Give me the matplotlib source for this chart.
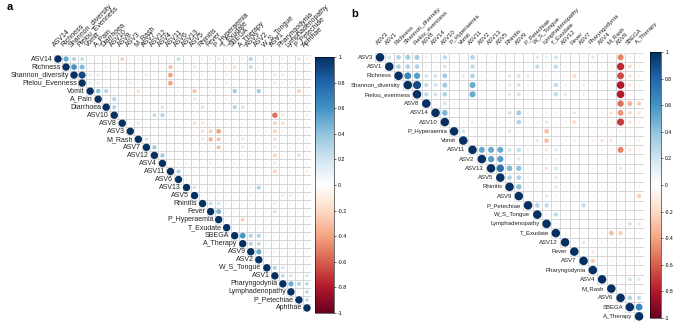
import numpy as np
import matplotlib
matplotlib.use("Agg")
import matplotlib.pyplot as plt
from matplotlib.patches import Circle, Rectangle
from matplotlib.colors import LinearSegmentedColormap, Normalize
from matplotlib.colorbar import ColorbarBase

plt.rcParams['font.family'] = ['Liberation Sans', 'DejaVu Sans']

# ---- panel a: variable order and upper-triangle correlations (row i -> cols i+1..)
labels_a = ["ASV14", "Richness", "Shannon_diversity", "Pielou_Evenness", "Vomit",
            "A_Pain", "Diarrhoea", "ASV10", "ASV8", "ASV3", "M_Rash", "ASV7",
            "ASV12", "ASV4", "ASV11", "ASV6", "ASV13", "ASV5", "Rhinitis", "Fever",
            "P_Hyperaemia", "T_Exudate", "SBEGA", "A_Therapy", "ASV9", "ASV2",
            "W_S_Tongue", "ASV1", "Pharyngodynia", "Lymphadenopathy", "P_Petechiae",
            "Aphthae"]

rows_a = [
    [.5, .3, .25, .08, -.08, .08, .07, -.25, -.08, -.12, -.08, .07, -.07, .07, .25, .07,
     .07, -.1, .1, .15, .08, -.08, -.1, .3, .07, -.08, .07, .1, .07, -.2, -.08],
    [.6, .45, .08, .07, .12, .08, -.08, -.1, -.08, -.1, .07, -.07, -.3, .07, .07, .15,
     .07, -.08, .07, -.08, -.2, .07, .25, -.08, .07, .07, -.08, .08, .07, -.07],
    [.9, .15, .15, .08, .07, -.08, -.08, -.1, -.15, -.1, -.07, -.4, .07, .07, -.1, -.1,
     .07, .07, .1, .07, -.07, .07, -.08, .07, .15, .12, .07, -.1, .07],
    [.15, .15, .07, .07, -.1, -.15, -.1, -.08, .07, -.1, -.4, .07, .07, -.07, .07, -.08,
     .07, .12, .07, .07, .07, -.07, .07, .12, .1, .1, -.07, -.08],
    [.4, .3, .07, .07, -.1, -.2, -.07, -.08, .07, -.07, -.1, .07, -.3, .07, .08, .07,
     .07, .35, .07, .07, .35, .07, .07, .07, -.08, -.25, .07],
    [.08, .3, .07, -.08, -.08, .07, -.08, .07, -.07, .07, -.08, -.15, .07, -.08, .07, .08,
     .08, .07, -.08, .07, .07, -.08, .07, .08, .07, .07],
    [.3, .07, .07, -.08, .07, .07, .2, .07, .07, .07, -.1, .2, .07, -.08, .07, .3, .2,
     .07, .07, -.08, -.1, .07, -.08, .07, .07],
    [.07, .07, .07, .08, .25, .3, .07, -.08, .07, -.08, .07, -.08, .07, .07, .07, -.07,
     -.08, -.07, .07, -.55, -.15, .07, -.08, -.1],
    [.08, .15, .08, -.07, -.08, .07, -.07, -.08, -.2, -.15, -.08, .07, -.08, .07, -.08,
     -.07, .07, .07, -.25, -.2, .07, -.08, .07],
    [.07, .07, .07, -.07, .07, -.08, .07, -.08, -.2, -.25, -.4, .07, -.1, -.1, .07, -.1,
     -.1, -.25, -.1, .07, -.08, .07],
    [.2, .07, .07, .07, -.07, .07, -.08, -.15, -.35, -.3, .07, -.08, .15, .07, -.08, .07,
     -.2, .07, .07, -.1, .07],
    [.35, .07, .07, -.08, .07, -.07, -.08, -.1, -.3, .07, -.08, .15, .07, -.08, -.08,
     -.15, .07, -.08, .07, -.08],
    [.35, .07, .07, -.08, .07, -.08, .07, -.08, .07, .07, .1, -.08, .07, .07, -.25, -.08,
     .07, .2, .07],
    [.07, .1, .1, .07, .07, .12, .07, .07, .1, .07, .07, .07, -.08, -.15, .07, .07, .07,
     -.08],
    [.3, .07, .08, .07, -.08, .07, .07, -.08, .07, .07, .08, .07, -.25, .07, -.08, .07,
     -.1],
    [.08, .07, .07, -.08, .07, -.1, .07, -.08, .07, .07, .07, -.08, .07, .07, -.1, .07],
    [.2, .08, .07, .07, .07, .07, .08, .1, .3, .07, .07, -.08, .07, -.08, .07],
    [.1, .07, .07, .08, .07, .07, .1, .07, .08, .07, .15, .15, .08, -.08],
    [.25, .2, -.08, -.08, .07, -.08, .07, .07, .15, .07, -.08, .07, -.08],
    [.45, .07, .08, .07, .08, .07, .08, .2, .07, .07, .08, -.08],
    [.08, -.08, -.25, .07, .07, -.07, .07, .07, .08, .07, -.07],
    [.08, .07, .08, .08, .07, -.07, .07, -.08, .07, .07],
    [.6, .3, .3, .07, -.08, .07, .07, -.08, .07],
    [.3, .25, .07, -.08, .07, .07, -.1, .07],
    [.5, -.1, -.1, -.08, .07, -.1, -.08],
    [.07, .07, .08, -.07, .07, .07],
    [.3, .2, .07, .08, .07],
    [.25, .2, .07, .2],
    [.5, .3, .25],
    [.08, .25],
    [.25],
]

# ---- panel b
labels_b = ["ASV3", "ASV1", "Richness", "Shannon_diversity", "Pielou_evenness", "ASV8",
            "ASV14", "ASV10", "P_Hyperaemia", "Vomit", "ASV11", "ASV2", "ASV13", "ASV5",
            "Rhinitis", "ASV9", "P_Petechiae", "W_S_Tongue", "Lymphadenopathy",
            "T_Exudate", "ASV12", "Fever", "ASV7", "Pharyngodynia", "ASV4", "M_Rash",
            "ASV6", "SBEGA", "A_Therapy"]

rows_b = [
    [.2, .3, .35, .35, .1, .08, .25, -.08, -.07, .3, .07, -.08, .07, .07, .07, -.08, .15,
     .12, .2, .07, .07, .08, -.15, .07, .07, -.5, -.1, -.08],
    [.3, .3, .3, .07, .07, .2, -.08, .07, .25, .07, .07, .07, .07, .07, .07, .25, .07,
     .25, .07, .08, -.08, .07, .07, -.1, -.75, -.2, -.08],
    [.65, .55, .2, .2, .35, .07, -.15, .3, .07, .07, .07, .15, .2, -.15, .07, -.1, .07,
     -.08, -.2, .07, .07, .07, .07, -.65, -.15, -.1],
    [.9, .25, .2, .35, .07, .07, .5, .07, .07, .07, .15, .2, -.1, .08, .07, .25, .08,
     .08, .12, .07, .07, -.1, -.8, -.15, -.08],
    [.25, .2, .3, .07, .07, .5, .07, .07, .07, .15, .2, -.08, .08, .07, .25, .15, .07,
     .12, .07, .07, -.1, -.8, -.08, .07],
    [.07, .2, -.1, .07, .07, .07, .07, -.08, -.08, .07, -.1, .07, .07, .07, .07, .07,
     .07, .07, .07, .07, -.55, -.35, -.25],
    [.45, .07, .07, .07, .07, .07, .07, .2, .35, -.1, .07, -.1, .08, .07, -.15, .07, .07,
     .08, -.15, -.45, -.2, -.15],
    [.07, .07, .12, -.08, -.08, .07, .07, .3, .07, .07, -.15, .07, .07, -.2, .08, -.08,
     .07, -.1, -.7, -.15, -.1],
    [.2, .07, .07, .07, .07, .15, .07, .07, .07, -.3, .07, .07, .07, .07, .07, .07, .07,
     .1, .07, .07],
    [.08, .07, .07, .07, .07, .08, .08, .15, -.3, .07, -.08, -.1, .07, -.1, -.15, -.15,
     .07, -.08, -.1],
    [.5, .5, .5, .2, .25, -.1, .07, -.15, .15, .07, .07, .07, .07, -.08, -.1, -.5, -.15,
     -.1],
    [.55, .55, .08, .15, -.08, .07, -.1, .12, .07, .07, .07, .07, .07, .07, .08, .07, .07],
    [.75, .45, .4, -.08, .07, -.15, .2, .07, .07, .07, -.1, .07, .07, -.15, -.1, .07],
    [.3, .3, .07, .07, .07, .15, .07, .07, .07, .07, .07, .07, .07, .07, .07],
    [.4, -.08, .07, .07, .15, .07, -.1, .07, .07, .07, .07, .07, .07, -.1],
    [.07, .07, -.15, .07, .07, .07, .07, .07, .07, .07, .07, .07, -.25],
    [.3, .25, .07, -.08, .08, .25, .07, -.08, .08, -.08, .08, .08],
    [.08, .25, .07, .07, .07, .08, .07, .07, -.08, .07, .07],
    [.08, .08, .08, .07, .08, .08, .08, .08, .2, .15],
    [-.08, -.08, -.08, .07, .07, -.3, -.25, .07, .07],
    [.07, -.15, .07, -.1, -.1, -.1, .07, .07],
    [.07, -.15, .07, .07, .07, .1, .1],
    [-.25, .07, .08, .07, -.08, -.1],
    [.08, .07, .07, .08, .07],
    [-.08, .07, .2, .15],
    [.08, .08, .07],
    [.3, .25],
    [.65],
]

cb_ticks = [1, 0.8, 0.6, 0.4, 0.2, 0, -0.2, -0.4, -0.6, -0.8, -1]
cb_labels = ["1", "0.8", "0.6", "0.4", "0.2", "0", "-0.2", "-0.4", "-0.6", "-0.8", "-1"]

cmap = LinearSegmentedColormap.from_list(
    "rdbu", ["#67001F", "#B2182B", "#D6604D", "#F4A582", "#FDDBC7", "#FFFFFF",
             "#D1E5F0", "#92C5DE", "#4393C3", "#2166AC", "#053061"])
norm = Normalize(-1, 1)

W, H = 685, 335


def px_axes(fig, x0, y0, x1, y1):
    return fig.add_axes([x0 / W, 1 - y1 / H, (x1 - x0) / W, (y1 - y0) / H])


def corr_panel(fig, box, labels, rows, fs, row_off, col_off):
    n = len(labels)
    ax = px_axes(fig, *box)
    ax.set_xlim(0, n)
    ax.set_ylim(n, 0)
    ax.axis("off")
    for i in range(n):
        vals = [1.0] + list(rows[i]) if i < len(rows) else [1.0]
        for k, v in enumerate(vals):
            j = i + k
            ax.add_patch(Rectangle((j, i), 1, 1, fill=False, ec="#d4d4d4", lw=0.5))
            ax.add_patch(Circle((j + 0.5, i + 0.5), 0.46 * np.sqrt(abs(v)),
                                fc=cmap(norm(v)), ec="none"))
        ax.text(i - row_off, i + 0.5, labels[i], ha="right", va="center",
                fontsize=fs, color="#222222", clip_on=False)
        ax.text(i + 0.35, -col_off, labels[i], ha="left", va="bottom", rotation=45,
                rotation_mode="anchor", fontsize=fs, color="#222222", clip_on=False)
    return ax


def corr_colorbar(fig, box, fs):
    cax = px_axes(fig, *box)
    cb = ColorbarBase(cax, cmap=cmap, norm=norm, orientation="vertical")
    cb.set_ticks(cb_ticks)
    cb.set_ticklabels(cb_labels)
    cb.outline.set_linewidth(0.4)
    cax.tick_params(labelsize=fs, length=1.5, width=0.4, pad=1.5)
    return cb


fig = plt.figure(figsize=(W / 100, H / 100), dpi=100)

corr_panel(fig, (54, 55, 311, 312), labels_a, rows_a, 5.0, 0.15, 0.8)
corr_colorbar(fig, (315, 57, 334, 313), 3.8)

corr_panel(fig, (375.4, 52.7, 643.7, 321), labels_b, rows_b, 4.3, 0.25, 0.8)
corr_colorbar(fig, (650, 52, 661, 318), 3.6)

fig.text(7 / W, 1 - 7 / H, "a", fontsize=8, fontweight="bold", va="center")
fig.text(351 / W, 1 - 14 / H, "b", fontsize=8, fontweight="bold", va="center")

fig.savefig("out.png", dpi=100)
